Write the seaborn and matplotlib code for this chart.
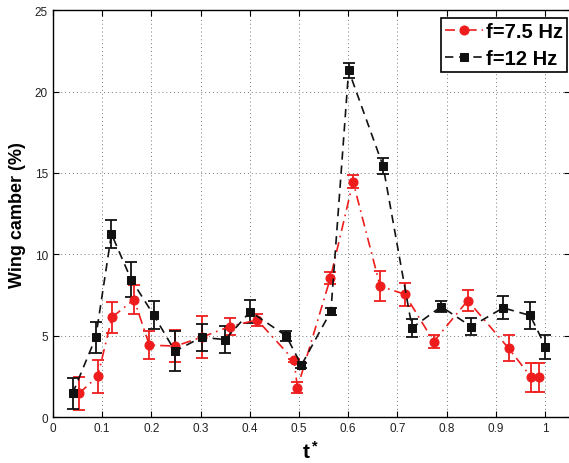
import numpy as np
import pandas as pd
import seaborn as sns
import matplotlib.pyplot as plt
from matplotlib.ticker import FuncFormatter

# f = 7.5 Hz (red)
t_75 = [0.053, 0.091, 0.120, 0.165, 0.196, 0.249, 0.302, 0.359, 0.415, 0.490,
        0.497, 0.564, 0.610, 0.665, 0.715, 0.774, 0.843, 0.926, 0.972, 0.988]
camber_75 = [1.45, 2.5, 6.13, 7.22, 4.42, 4.36, 4.9, 5.56, 5.97, 3.48,
             1.8, 8.55, 14.46, 8.04, 7.55, 4.64, 7.16, 4.23, 2.45, 2.45]
err_75 = [1.0, 1.0, 0.95, 0.9, 0.85, 1.0, 1.3, 0.5, 0.35, 0.1,
          0.35, 0.35, 0.4, 0.92, 0.7, 0.38, 0.63, 0.8, 0.88, 0.88]

# f = 12 Hz (black)
t_12 = [0.040, 0.087, 0.119, 0.159, 0.205, 0.248, 0.302, 0.350, 0.401, 0.474,
        0.505, 0.565, 0.601, 0.671, 0.730, 0.789, 0.850, 0.915, 0.970, 1.001]
camber_12 = [1.45, 4.89, 11.25, 8.45, 6.26, 4.05, 4.9, 4.76, 6.48, 4.99,
             3.19, 6.5, 21.3, 15.42, 5.48, 6.79, 5.56, 6.71, 6.24, 4.33]
err_12 = [0.96, 0.95, 0.88, 1.05, 0.87, 1.23, 0.82, 0.85, 0.7, 0.32,
          0.15, 0.2, 0.48, 0.47, 0.57, 0.36, 0.54, 0.7, 0.8, 0.74]

plt.rcParams['font.family'] = ['Liberation Sans', 'DejaVu Sans']
plt.rcParams['mathtext.fontset'] = 'custom'
plt.rcParams['mathtext.bf'] = 'Liberation Sans:bold'
plt.rcParams['mathtext.rm'] = 'Liberation Sans'

fig = plt.figure(figsize=(5.69, 4.64), dpi=100)
ax = fig.add_axes([0.093, 0.099, 0.908, 0.877])

df75 = pd.DataFrame({'t': t_75, 'camber': camber_75})
df12 = pd.DataFrame({'t': t_12, 'camber': camber_12})

ax.errorbar(t_75, camber_75, yerr=err_75, fmt='none', ecolor='#ee1c1c',
            elinewidth=1.3, capsize=4, capthick=1.3, zorder=3)
ax.errorbar(t_12, camber_12, yerr=err_12, fmt='none', ecolor='#111111',
            elinewidth=1.3, capsize=4, capthick=1.3, zorder=3)

sns.lineplot(data=df75, x='t', y='camber', ax=ax, color='#ee1c1c', sort=False,
             linestyle=(0, (6, 3, 1, 3)), linewidth=1.2, marker='o', markersize=6.5,
             markeredgecolor='#ee1c1c', label='f=7.5 Hz', zorder=4)
sns.lineplot(data=df12, x='t', y='camber', ax=ax, color='#111111', sort=False,
             linestyle=(0, (5, 3.5)), linewidth=1.2, marker='s', markersize=5.5,
             markeredgecolor='#111111', label='f=12 Hz', zorder=4)

ax.set_xlim(0, 1.05)
ax.set_ylim(0, 25)
ax.set_xticks(np.arange(0, 1.01, 0.1))
ax.set_yticks(np.arange(0, 26, 5))
ax.xaxis.set_major_formatter(FuncFormatter(lambda v, p: f'{v:g}'))
ax.tick_params(direction='in', top=True, right=True, labelsize=8.5,
               labelcolor='#222222', length=4, width=0.8)
ax.grid(True, linestyle=(0, (1, 3)), color='#777777', linewidth=0.7)
for s in ax.spines.values():
    s.set_linewidth(1.0)

ax.set_xlabel(r'$\mathbf{t^*}$', fontsize=15, labelpad=4)
ax.set_ylabel('Wing camber (%)', fontsize=13, fontweight='bold', labelpad=6)

leg = ax.legend(loc='upper right', bbox_to_anchor=(0.995, 0.981),
                prop={'weight': 'bold', 'size': 14.5}, fancybox=False,
                framealpha=1, edgecolor='black', handlelength=1.9,
                handletextpad=0.15, borderpad=0.2, labelspacing=0.4,
                borderaxespad=0.0)
leg.get_frame().set_linewidth(1.2)

fig.savefig('out.png', dpi=100)
